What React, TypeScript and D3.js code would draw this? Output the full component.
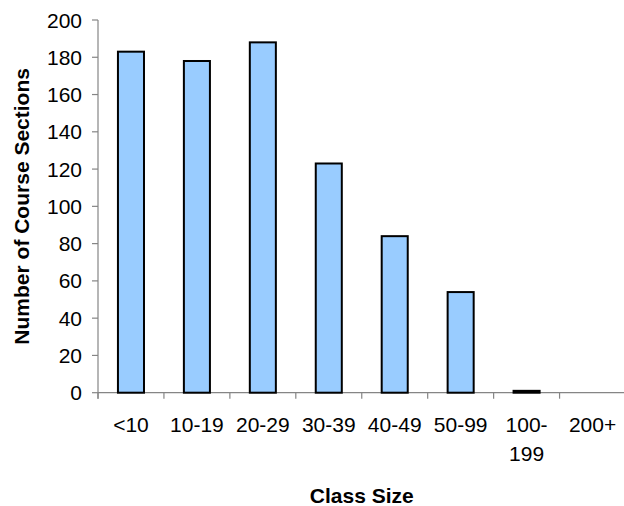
import React from "react";
import * as d3 from "d3";

const categories: string[] = ["<10", "10-19", "20-29", "30-39", "40-49", "50-99", "100-199", "200+"];
const categoryLabels: string[][] = [["<10"], ["10-19"], ["20-29"], ["30-39"], ["40-49"], ["50-99"], ["100-", "199"], ["200+"]];
const sections: number[] = [183, 178, 188, 123, 84, 54, 1, 0];
const yTicks: number[] = [0, 20, 40, 60, 80, 100, 120, 140, 160, 180, 200];

const W = 624;
const H = 506;
const left = 98;
const right = 625.5;
const top = 20;
const bottom = 392.7;
const FONT = "'Liberation Sans', Arial, sans-serif";
const AXIS = "#858585";

export default function App() {
  const x = d3.scaleBand<string>().domain(categories).range([left, right]).padding(0);
  const y = d3.scaleLinear().domain([0, 200]).range([bottom, top]);
  const bw = x.bandwidth() * 0.395;
  const boundaries = categories.map((c) => x(c) as number);

  return (
    <svg width={W} height={H} style={{ position: "absolute", left: 0, top: 0, background: "#fff" }}>
      {/* y axis */}
      <line x1={left} x2={left} y1={top} y2={bottom + 6} stroke={AXIS} strokeWidth={1.2} />
      {yTicks.map((t) => (
        <g key={t}>
          <line x1={left - 6} x2={left} y1={y(t)} y2={y(t)} stroke={AXIS} strokeWidth={1.2} />
          <text
            x={left - 16}
            y={y(t)}
            dy="0.36em"
            textAnchor="end"
            fontFamily={FONT}
            fontSize={21}
            fill="#000"
          >
            {t}
          </text>
        </g>
      ))}
      {/* x axis */}
      <line x1={left} x2={right} y1={bottom} y2={bottom} stroke={AXIS} strokeWidth={1.2} />
      {boundaries.map((b, i) => (
        <line key={i} x1={b} x2={b} y1={bottom} y2={bottom + 6} stroke={AXIS} strokeWidth={1.2} />
      ))}
      {categories.map((c, i) => {
        const cx = (x(c) as number) + x.bandwidth() / 2;
        return (
          <text key={c} textAnchor="middle" fontFamily={FONT} fontSize={21} fill="#000">
            {categoryLabels[i].map((l, j) => (
              <tspan key={j} x={cx} y={bottom + 39 + j * 29.5}>
                {l}
              </tspan>
            ))}
          </text>
        );
      })}
      {/* bars */}
      {categories.map((c, i) => {
        const cx = (x(c) as number) + x.bandwidth() / 2;
        const v = sections[i];
        if (v <= 0) return null;
        return (
          <rect
            key={c}
            x={cx - bw / 2}
            y={y(v)}
            width={bw}
            height={y(0) - y(v)}
            fill="#99CCFF"
            stroke="#000"
            strokeWidth={2}
          />
        );
      })}
      {/* titles */}
      <text
        x={(left + right) / 2}
        y={503}
        textAnchor="middle"
        fontFamily={FONT}
        fontWeight="bold"
        fontSize={21}
        fill="#000"
      >
        Class Size
      </text>
      <text
        transform={`translate(28.5, ${(top + bottom) / 2}) rotate(-90)`}
        textAnchor="middle"
        fontFamily={FONT}
        fontWeight="bold"
        fontSize={21}
        fill="#000"
      >
        Number of Course Sections
      </text>
    </svg>
  );
}
